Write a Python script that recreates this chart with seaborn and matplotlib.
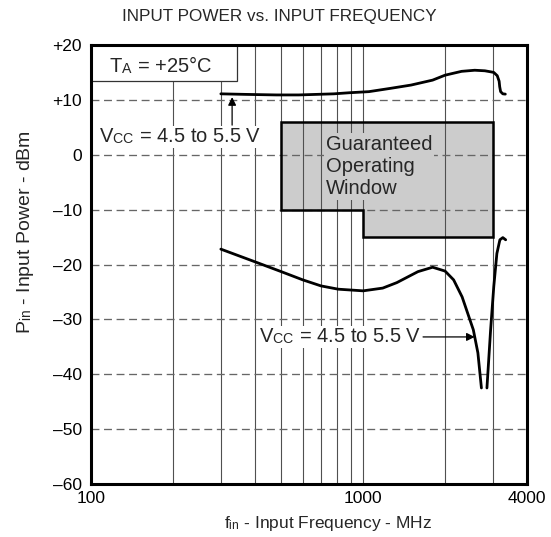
import numpy as np
import pandas as pd
import matplotlib
matplotlib.use("Agg")
import matplotlib.pyplot as plt
import seaborn as sns
from matplotlib.patches import Polygon, Rectangle
from matplotlib.ticker import NullFormatter

# subscripts in the reference sit almost on the baseline
try:
    from matplotlib import _mathtext as _mt
    _mt.FontConstantsBase.sub1 = 0.12
    _mt.FontConstantsBase.sub2 = 0.2
except Exception:
    pass

# ---------------- data ----------------
upper_freq = [300, 370, 480, 580, 780, 890, 1050, 1260, 1500, 1800, 2000, 2300,
              2570, 2800, 2950, 3020, 3110, 3160, 3175, 3200, 3260, 3330]
upper_pin = [11.1, 11.0, 10.9, 10.9, 11.1, 11.3, 11.5, 12.1, 12.7, 13.6, 14.5, 15.2,
             15.4, 15.3, 15.1, 15.0, 14.4, 13.4, 12.4, 11.5, 11.1, 11.05]

lower_freq_a = [300, 400, 500, 600, 700, 810, 1000, 1180, 1330, 1590, 1800, 2000,
                2150, 2310, 2540, 2640, 2720]
lower_pin_a = [-17.2, -19.5, -21.3, -22.8, -23.9, -24.5, -24.8, -24.3, -23.3, -21.3,
               -20.5, -21.2, -22.8, -25.9, -31.9, -36.1, -42.5]
lower_freq_b = [2850, 2940, 3020, 3100, 3180, 3260, 3340]
lower_pin_b = [-42.5, -31.9, -24.0, -18.0, -15.5, -15.1, -15.5]

window_freq = [500, 3000, 3000, 1000, 1000, 500]
window_pin = [6, 6, -15, -15, -10, -10]

x_ticks = [100, 1000, 4000]
x_tick_labels = ["100", "1000", "4000"]
x_grid = [200, 300, 400, 500, 600, 700, 800, 900, 2000, 3000]
y_ticks = [-60, -50, -40, -30, -20, -10, 0, 10, 20]
y_tick_labels = ["\u201360", "\u201350", "\u201340", "\u201330", "\u201320", "\u201310", "0", "+10", "+20"]

title = "INPUT POWER vs. INPUT FREQUENCY"
x_label = r"$\mathregular{f_{in}}$ - Input Frequency - MHz"
y_label = r"$\mathregular{P_{in}}$ - Input Power - dBm"
temp_text = r"$\mathregular{T_A}$ = +25°C"
vcc_text = r"$\mathregular{V_{CC}}$ = 4.5 to 5.5 V"
window_text = "Guaranteed\nOperating\nWindow"

# ---------------- style ----------------
sns.set_theme(style="white")
plt.rcParams["font.family"] = ["Liberation Sans", "DejaVu Sans"]
plt.rcParams["mathtext.fontset"] = "custom"
plt.rcParams["mathtext.rm"] = "Liberation Sans"
plt.rcParams["mathtext.it"] = "Liberation Sans:italic"
plt.rcParams["mathtext.bf"] = "Liberation Sans:bold"

fig = plt.figure(figsize=(5.51, 5.37), dpi=100)
W, H = 551, 537
ax = fig.add_axes([91 / W, (H - 484) / H, 436 / W, 439 / H])

ax.set_xscale("log")
ax.set_xlim(100, 4000)
ax.set_ylim(-60, 20)

ax.set_xticks(x_ticks)
ax.set_xticklabels(x_tick_labels)
ax.set_xticks(x_grid, minor=True)
ax.xaxis.set_minor_formatter(NullFormatter())
ax.set_yticks(y_ticks)
ax.set_yticklabels(y_tick_labels)
ax.tick_params(which="both", length=0, labelsize=12.5, colors="black")
ax.tick_params(axis="x", pad=5)
ax.tick_params(axis="y", pad=6.5)

ax.set_axisbelow(True)
ax.xaxis.grid(True, which="both", color="#505050", lw=0.8, ls="-")
ax.yaxis.grid(True, which="major", color="#666666", lw=0.95, ls=(0, (6, 3.5)))

for sp in ax.spines.values():
    sp.set_visible(True)
    sp.set_color("black")
    sp.set_linewidth(2.2)
    sp.set_zorder(5)

# guaranteed operating window
ax.add_patch(Polygon(list(zip(window_freq, window_pin)), closed=True,
                     facecolor="#cccccc", edgecolor="none", zorder=0.2))
ax.add_patch(Polygon(list(zip(window_freq, window_pin)), closed=True,
                     fill=False, edgecolor="black", lw=1.8, zorder=2.2))
ax.text(728, -2.2, window_text, ha="left", va="center", fontsize=14.5,
        linespacing=1.2, zorder=3,
        bbox=dict(facecolor="#cccccc", edgecolor="none", pad=1.5))

# curves
up = pd.DataFrame({"f": upper_freq, "p": upper_pin})
la = pd.DataFrame({"f": lower_freq_a, "p": lower_pin_a})
lb = pd.DataFrame({"f": lower_freq_b, "p": lower_pin_b})
for d in (up, la, lb):
    sns.lineplot(data=d, x="f", y="p", sort=False, estimator=None, color="black",
                 lw=2.0, ax=ax, zorder=4)

# temperature box
ax.add_patch(Rectangle((0, 0.919), 0.335, 0.09, transform=ax.transAxes,
                       facecolor="white", edgecolor="#333333", lw=0.9, zorder=2.6))
ax.text(0.159, 0.952, temp_text, transform=ax.transAxes, ha="center", va="center",
        fontsize=14.5, zorder=3)

# upper annotation
ax.text(0.018, 0.790, vcc_text, transform=ax.transAxes, ha="left", va="center",
        fontsize=14.5, zorder=3,
        bbox=dict(facecolor="white", edgecolor="none", pad=1))
ax.annotate("", xy=(330, 10.5), xytext=(330, 5.4),
            arrowprops=dict(arrowstyle="-|>", color="black", lw=0.9,
                            mutation_scale=12, shrinkA=0, shrinkB=0), zorder=3)

# lower annotation
ax.text(1640, -33.2, vcc_text, ha="right", va="center", fontsize=14.5, zorder=3,
        bbox=dict(facecolor="white", edgecolor="none", pad=1))
ax.annotate("", xy=(2570, -33.2), xytext=(1660, -33.2),
            arrowprops=dict(arrowstyle="-|>", color="black", lw=0.9,
                            mutation_scale=12, shrinkA=0, shrinkB=0), zorder=3)

# labels
ax.set_xlabel(x_label, fontsize=12.5)
ax.xaxis.label.set_va("center")
ax.xaxis.set_label_coords(0.544, -0.091)
ax.set_ylabel(y_label, fontsize=14)
ax.yaxis.label.set_va("center")
ax.yaxis.set_label_coords(-0.151, 0.574)

fig.text(279 / W, 1 - 17 / H, title, ha="center", va="center", fontsize=12.3)

fig.savefig("out.png", dpi=100)
